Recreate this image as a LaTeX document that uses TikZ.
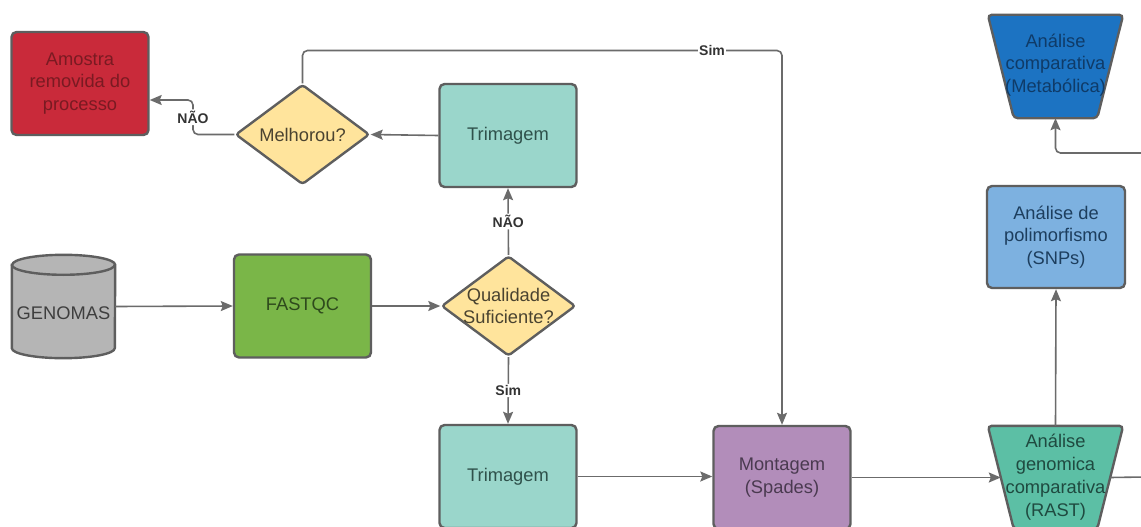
\documentclass[tikz,border=0pt]{standalone}
\usepackage{fontspec}
\setmainfont{Liberation Sans}
\usetikzlibrary{shapes.geometric,arrows.meta}
\definecolor{bordc}{HTML}{5E5E5E}
\definecolor{linec}{HTML}{6B6B6B}
\definecolor{redf}{HTML}{C92A3A}
\definecolor{redt}{HTML}{7A1A22}
\definecolor{tealf}{HTML}{9AD6CB}
\definecolor{tealt}{HTML}{2F514B}
\definecolor{greenf}{HTML}{7AB648}
\definecolor{greent}{HTML}{2E4A1C}
\definecolor{purf}{HTML}{B28DBA}
\definecolor{purt}{HTML}{4A3A50}
\definecolor{snpf}{HTML}{7DB1E0}
\definecolor{snpt}{HTML}{1D3E5E}
\definecolor{metaf}{HTML}{1C73C2}
\definecolor{metat}{HTML}{0F3B68}
\definecolor{rastf}{HTML}{5CBFA5}
\definecolor{rastt}{HTML}{1F4A40}
\definecolor{diaf}{HTML}{FFE49C}
\definecolor{diat}{HTML}{4A4330}
\definecolor{cylf}{HTML}{B5B5B5}
\definecolor{cylt}{HTML}{3E3E3E}
\definecolor{lblt}{HTML}{333333}
\begin{document}
\begin{tikzpicture}[x=1pt,y=1pt,
  bord/.style={draw=bordc, line width=2.4pt},
  txt/.style={align=center, inner sep=0pt, font=\fontsize{18.3}{22.8}\selectfont},
  box/.style={bord, rectangle, rounded corners=5pt, minimum width=137pt, minimum height=103pt, inner sep=0pt, align=center, font=\fontsize{18.3}{22.8}\selectfont},
  dia/.style={bord, diamond, fill=diaf, minimum width=134pt, minimum height=100pt, inner sep=0pt, rounded corners=3pt},
  frame/.style={rectangle, minimum width=135pt, minimum height=103pt, inner sep=0pt},
  trapline/.style={bord, rounded corners=4pt},
  conn/.style={draw=linec, line width=1.6pt, rounded corners=5pt, -{Stealth[length=12pt,width=10pt,inset=2pt]}},
  plain/.style={draw=linec, line width=1.6pt, rounded corners=5pt},
  lbl/.style={fill=white, inner sep=1.5pt, text=lblt, font=\fontsize{14}{16}\selectfont\bfseries}
]
\useasboundingbox[fill=white] (0,0) rectangle (1141,-527);

% nodes
\node[box, fill=redf, text=redt] (amostra) at (80,-83.5) {Amostra\\removida do\\processo};
\node[dia] (melh) at (302.5,-134.5) {};
\node[txt, text=diat] (melht) at (melh) {Melhorou?};
\node[box, fill=tealf, text=tealt] (trim1) at (508,-135.5) {Trimagem};

\node[minimum width=103pt, minimum height=103pt, inner sep=0pt] (gen) at (63.5,-306.5) {};
\draw[bord, fill=cylf] ([yshift=-10pt]gen.north west) -- ([yshift=10pt]gen.south west)
   arc[start angle=180, end angle=360, x radius=51.5, y radius=10]
   -- ([yshift=-10pt]gen.north east)
   arc[start angle=0, end angle=180, x radius=51.5, y radius=10] -- cycle;
\draw[bord] ([yshift=-10pt]gen.north west) arc[start angle=180, end angle=360, x radius=51.5, y radius=10];
\node[txt, text=cylt] (gent) at (63.5,-313) {GENOMAS};

\node[box, fill=greenf, text=greent] (fastqc) at (302.5,-306) {FASTQC};
\node[dia] (qual) at (508.5,-306) {};
\node[txt, text=diat] (qualt) at (qual) {Qualidade\\Suficiente?};
\node[box, fill=tealf, text=tealt] (trim2) at (508,-476.5) {Trimagem};
\node[box, fill=purf, text=purt] (mont) at (782,-477.5) {Montagem\\(Spades)};

\node[frame] (rast) at (1055.5,-477.5) {};
\draw[trapline, fill=rastf] (rast.north west) -- (rast.north east) -- ([xshift=-26pt]rast.south east) -- ([xshift=26pt]rast.south west) -- cycle;
\node[txt, text=rastt] (rastt) at (1055.5,-477) {Análise\\genomica\\comparativa\\(RAST)};

\node[box, fill=snpf, text=snpt, minimum width=138pt, minimum height=102pt] (snp) at (1056,-237) {Análise de\\polimorfismo\\(SNPs)};

\node[frame] (meta) at (1055.5,-66.5) {};
\draw[trapline, fill=metaf] (meta.north west) -- (meta.north east) -- ([xshift=-26pt]meta.south east) -- ([xshift=26pt]meta.south west) -- cycle;
\node[txt, text=metat] (metat) at (1055.5,-65) {Análise\\comparativa\\(Metabólica)};

% coordinates
\coordinate (n1) at (193,-134.5);
\coordinate (n2) at (193,-100);
\coordinate (s1) at (500,-50.5);
\coordinate (e1) at (1145,-477);
\coordinate (e2) at (1145,-153);

% connectors
\draw[conn] (gen.east) -- (fastqc.west);
\draw[conn] (fastqc.east) -- (qual.west);
\draw[conn] (qual.north) -- node[lbl] (l1) {NÃO} (trim1.south);
\draw[conn] (qual.south) -- node[lbl] (l2) {Sim} (trim2.north);
\draw[conn] (trim1.west) -- (melh.east);
\draw[conn] (melh.west) -- (n1) -- node[lbl] (l3) {NÃO} (n2) -- (amostra.east |- n2);
\draw[conn] (melh.north) |- (s1) -| (mont.north);
\node[lbl] (l4) at (712,-50.5) {Sim};
\draw[conn] (trim2.east) -- (mont.west |- trim2.east);
\draw[conn] (mont.east) -- ([xshift=13pt]rast.west);
\draw[plain] ([xshift=-13pt]rast.east) -- (e1);
\draw[conn] (rast.north) -- (snp.south);
\draw[conn] (e2) -| (meta.south);
\end{tikzpicture}
\end{document}
